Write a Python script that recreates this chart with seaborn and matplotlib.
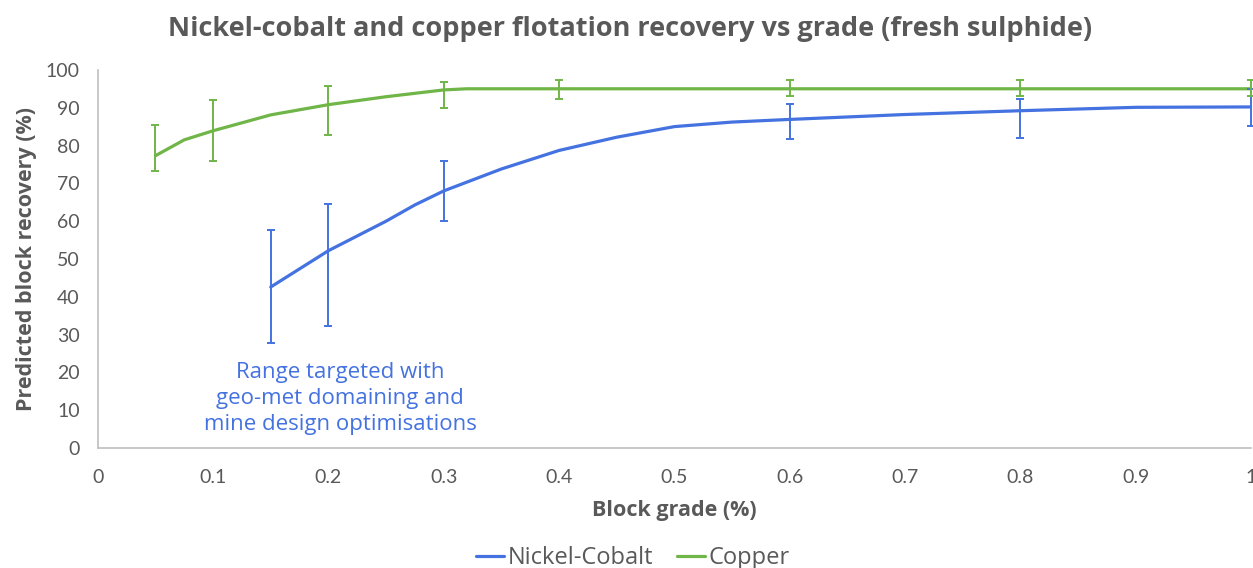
import numpy as np
import pandas as pd
import matplotlib
matplotlib.use("Agg")
import matplotlib.pyplot as plt
import seaborn as sns

# values
ni_grade = [0.15, 0.2, 0.25, 0.275, 0.3, 0.35, 0.4, 0.45, 0.5, 0.55, 0.6, 0.7, 0.8, 0.9, 1.0]
ni_recovery = [42.6, 52.2, 60.0, 64.3, 68.0, 73.8, 78.7, 82.2, 85.0, 86.2, 86.9, 88.2, 89.2, 90.1, 90.2]

cu_grade = [0.05, 0.075, 0.1, 0.15, 0.2, 0.25, 0.3, 0.32, 0.4, 0.6, 0.8, 1.0]
cu_recovery = [77.3, 81.5, 83.9, 88.1, 90.8, 92.9, 94.7, 95.0, 95.0, 95.0, 95.0, 95.0]

# error bars: grade, centre, low, high
ni_err_grade = [0.15, 0.2, 0.3, 0.6, 0.8, 1.0]
ni_err_mid = [42.6, 52.2, 68.0, 86.9, 89.2, 90.2]
ni_err_low = [27.9, 32.4, 60.0, 81.8, 82.1, 85.2]
ni_err_high = [57.8, 64.5, 76.0, 91.0, 92.2, 95.0]

cu_err_grade = [0.05, 0.1, 0.2, 0.3, 0.4, 0.6, 0.8, 1.0]
cu_err_mid = [77.3, 83.9, 90.8, 94.7, 95.0, 95.0, 95.0, 95.0]
cu_err_low = [73.3, 76.0, 82.9, 89.9, 92.2, 93.0, 93.0, 93.0]
cu_err_high = [85.3, 92.1, 95.8, 96.8, 97.2, 97.2, 97.2, 97.2]

blue = "#4472E0"
green = "#70B547"
grey = "#595959"

sns.set_style("white")
plt.rcParams['font.family'] = ['Open Sans', 'DejaVu Sans']

df = pd.concat([
    pd.DataFrame({'grade': ni_grade, 'recovery': ni_recovery, 'series': 'Nickel-Cobalt'}),
    pd.DataFrame({'grade': cu_grade, 'recovery': cu_recovery, 'series': 'Copper'}),
])

fig = plt.figure(figsize=(12.53, 5.68), dpi=100)
ax = fig.add_axes([0.078, 0.211, 0.9205, 0.666])

sns.lineplot(data=df, x='grade', y='recovery', hue='series',
             palette={'Nickel-Cobalt': blue, 'Copper': green},
             linewidth=2.3, ax=ax, legend=False)

for gx, mid, lo, hi, col in [(ni_err_grade, ni_err_mid, ni_err_low, ni_err_high, blue),
                             (cu_err_grade, cu_err_mid, cu_err_low, cu_err_high, green)]:
    mid = np.array(mid)
    yerr = [mid - np.array(lo), np.array(hi) - mid]
    ax.errorbar(gx, mid, yerr=yerr, fmt='none', ecolor=col, elinewidth=1.4,
                capsize=3, capthick=1.4, clip_on=False)

ax.set_xlim(0, 1)
ax.set_ylim(0, 100)
ax.set_xticks(np.arange(0, 1.01, 0.1))
ax.set_xticklabels(['0', '0.1', '0.2', '0.3', '0.4', '0.5', '0.6', '0.7', '0.8', '0.9', '1'])
ax.set_yticks(range(0, 101, 10))
ax.tick_params(axis='both', colors='#BFBFBF', labelcolor=grey, labelsize=13,
               length=7, width=1, direction='out')
for lab in ax.get_xticklabels() + ax.get_yticklabels():
    lab.set_family(['Lato', 'DejaVu Sans'])
    lab.set_fontsize(14)
ax.tick_params(axis='x', pad=8)
ax.tick_params(axis='y', pad=6)
for s in ['top', 'right']:
    ax.spines[s].set_visible(False)
for s in ['left', 'bottom']:
    ax.spines[s].set_color('#BFBFBF')
    ax.spines[s].set_linewidth(1.2)

ax.set_xlabel('Block grade (%)', fontsize=15.5, fontweight='bold', color=grey, labelpad=10)
ax.set_ylabel('Predicted block recovery (%)', fontsize=15.5, fontweight='bold', color=grey, labelpad=6)

ax.text(0.21, 13.2, 'Range targeted with\ngeo-met domaining and\nmine design optimisations',
        ha='center', va='center', fontsize=16, color=blue, linespacing=1.32)

fig.suptitle('Nickel-cobalt and copper flotation recovery vs grade (fresh sulphide)',
             x=0.503, y=0.972, fontsize=19.5, fontweight='bold', color=grey)

handles = [plt.Line2D([], [], color=blue, lw=2.3), plt.Line2D([], [], color=green, lw=2.3)]
fig.legend(handles, ['Nickel-Cobalt', 'Copper'], loc='center', bbox_to_anchor=(0.505, 0.018),
           ncol=2, frameon=False, fontsize=17, handlelength=1.2, handletextpad=0.15,
           columnspacing=1.0, labelcolor=grey)

fig.savefig('out.png', dpi=100)
